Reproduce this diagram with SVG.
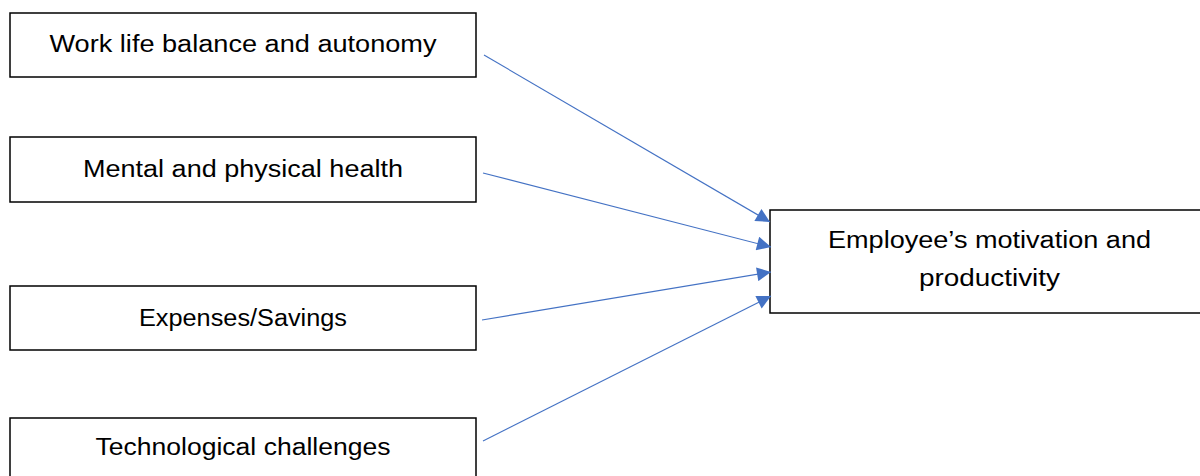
<svg xmlns="http://www.w3.org/2000/svg" width="1200" height="476" viewBox="0 0 1200 476">
<style>
.box{fill:#fff;stroke:#000;stroke-width:1.5}
.t{font-family:"Liberation Sans",Arial,sans-serif;font-size:23px;fill:#000;text-anchor:middle}
.c{stroke:#4472C4;stroke-width:1.1;fill:none;marker-end:url(#ah)}
</style>
<defs>
<marker id="ah" viewBox="0 0 10 10" refX="10" refY="5" markerWidth="16" markerHeight="14" markerUnits="userSpaceOnUse" orient="auto">
<path d="M0,0 L10,5 L0,10 Z" fill="#4472C4"/>
</marker>
</defs>
<g id="n1"><rect class="box" x="10" y="13" width="466" height="64"/><text class="t" x="243" y="52" textLength="387" lengthAdjust="spacingAndGlyphs">Work life balance and autonomy</text></g>
<g id="n2"><rect class="box" x="10" y="137" width="466" height="65"/><text class="t" x="243" y="177" textLength="320" lengthAdjust="spacingAndGlyphs">Mental and physical health</text></g>
<g id="n3"><rect class="box" x="10" y="286" width="466" height="64"/><text class="t" x="243" y="326" textLength="208" lengthAdjust="spacingAndGlyphs">Expenses/Savings</text></g>
<g id="n4"><rect class="box" x="10" y="418" width="466" height="70"/><text class="t" x="243" y="455" textLength="295" lengthAdjust="spacingAndGlyphs">Technological challenges</text></g>
<g id="n5"><rect class="box" x="770" y="210" width="440" height="103"/><text class="t" x="989.5" y="248" textLength="323" lengthAdjust="spacingAndGlyphs">Employee’s motivation and</text><text class="t" x="989.5" y="286" textLength="141" lengthAdjust="spacingAndGlyphs">productivity</text></g>
<g id="connectors">
<line class="c" x1="484" y1="55" x2="770" y2="222"/>
<line class="c" x1="483" y1="173" x2="771" y2="247"/>
<line class="c" x1="482" y1="320" x2="771" y2="272"/>
<line class="c" x1="483" y1="441" x2="771" y2="296"/>
</g>
</svg>
